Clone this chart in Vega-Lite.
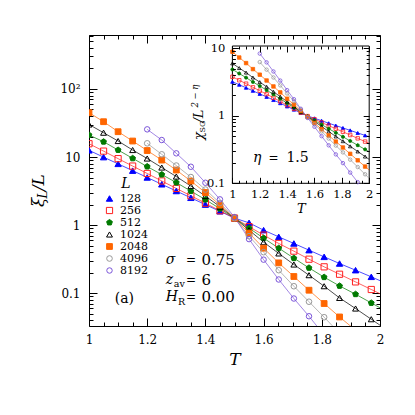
{
"$schema": "https://vega.github.io/schema/vega-lite/v6.json",
"autosize": "none",
"width": 291, "height": 291,
"padding": {"left": 89, "top": 35, "right": 35, "bottom": 89},
"config": {
  "view": {"stroke": "black", "strokeWidth": 1},
  "axis": {"labelFont": "DejaVu Serif", "titleFont": "DejaVu Serif", "tickColor": "black", "labelColor": "black", "titleColor": "black", "titleFontWeight": "normal", "domain": false, "grid": false, "labelFlush": false, "labelOverlap": false, "labelBound": false},
  "text": {"font": "DejaVu Serif", "color": "black"}
},
"datasets": {
 "main": [
  {"L":128,"T":1.0,"v":12.55},{"L":128,"T":1.05,"v":9.97},{"L":128,"T":1.1,"v":7.94},{"L":128,"T":1.15,"v":6.31},{"L":128,"T":1.2,"v":5.01},{"L":128,"T":1.25,"v":3.98},{"L":128,"T":1.3,"v":3.17},{"L":128,"T":1.35,"v":2.52},{"L":128,"T":1.4,"v":2.0},{"L":128,"T":1.45,"v":1.596},{"L":128,"T":1.5,"v":1.267},{"L":128,"T":1.55,"v":1.081},{"L":128,"T":1.6,"v":0.844},{"L":128,"T":1.652,"v":0.673},{"L":128,"T":1.704,"v":0.538},{"L":128,"T":1.756,"v":0.429},{"L":128,"T":1.808,"v":0.342},{"L":128,"T":1.861,"v":0.273},{"L":128,"T":1.916,"v":0.218},{"L":128,"T":1.97,"v":0.174},{"L":128,"T":2.0,"v":0.153,"ext":true},
  {"L":256,"T":1.0,"v":15.69},{"L":256,"T":1.05,"v":12.22},{"L":256,"T":1.1,"v":9.47},{"L":256,"T":1.15,"v":7.37},{"L":256,"T":1.2,"v":5.74},{"L":256,"T":1.25,"v":4.45},{"L":256,"T":1.3,"v":3.46},{"L":256,"T":1.35,"v":2.70},{"L":256,"T":1.4,"v":2.10},{"L":256,"T":1.45,"v":1.628},{"L":256,"T":1.5,"v":1.267},{"L":256,"T":1.55,"v":0.950},{"L":256,"T":1.6,"v":0.713},{"L":256,"T":1.652,"v":0.538},{"L":256,"T":1.704,"v":0.415},{"L":256,"T":1.756,"v":0.316},{"L":256,"T":1.808,"v":0.244},{"L":256,"T":1.861,"v":0.190},{"L":256,"T":1.916,"v":0.1466},{"L":256,"T":1.97,"v":0.1134},{"L":256,"T":2.0,"v":0.0984,"ext":true},
  {"L":512,"T":1.0,"v":21.06},{"L":512,"T":1.05,"v":16.79},{"L":512,"T":1.1,"v":12.68},{"L":512,"T":1.15,"v":9.57},{"L":512,"T":1.2,"v":7.25},{"L":512,"T":1.25,"v":5.53},{"L":512,"T":1.3,"v":4.22},{"L":512,"T":1.35,"v":3.16},{"L":512,"T":1.4,"v":2.37},{"L":512,"T":1.45,"v":1.748},{"L":512,"T":1.5,"v":1.267},{"L":512,"T":1.55,"v":0.903},{"L":512,"T":1.6,"v":0.644},{"L":512,"T":1.652,"v":0.459},{"L":512,"T":1.704,"v":0.327},{"L":512,"T":1.756,"v":0.2356},{"L":512,"T":1.808,"v":0.172},{"L":512,"T":1.861,"v":0.128},{"L":512,"T":1.916,"v":0.0967},{"L":512,"T":1.97,"v":0.072},{"L":512,"T":2.0,"v":0.0612,"ext":true},
  {"L":1024,"T":1.0,"v":30.06},{"L":1024,"T":1.05,"v":22.77},{"L":1024,"T":1.1,"v":17.19},{"L":1024,"T":1.15,"v":12.68},{"L":1024,"T":1.2,"v":9.51},{"L":1024,"T":1.25,"v":7.01},{"L":1024,"T":1.3,"v":5.17},{"L":1024,"T":1.35,"v":3.75},{"L":1024,"T":1.4,"v":2.67},{"L":1024,"T":1.45,"v":1.871},{"L":1024,"T":1.5,"v":1.267},{"L":1024,"T":1.55,"v":0.844},{"L":1024,"T":1.6,"v":0.562},{"L":1024,"T":1.652,"v":0.384},{"L":1024,"T":1.704,"v":0.264},{"L":1024,"T":1.756,"v":0.184},{"L":1024,"T":1.808,"v":0.1267},{"L":1024,"T":1.861,"v":0.0853},{"L":1024,"T":1.916,"v":0.0596},{"L":1024,"T":1.97,"v":0.0415},{"L":1024,"T":2.0,"v":0.0339,"ext":true},
  {"L":2048,"T":1.0,"v":44.8},{"L":2048,"T":1.05,"v":33.04},{"L":2048,"T":1.1,"v":23.56},{"L":2048,"T":1.15,"v":17.19},{"L":2048,"T":1.2,"v":12.46},{"L":2048,"T":1.25,"v":9.03},{"L":2048,"T":1.3,"v":6.44},{"L":2048,"T":1.35,"v":4.44},{"L":2048,"T":1.4,"v":3.01},{"L":2048,"T":1.45,"v":1.968},{"L":2048,"T":1.5,"v":1.267},{"L":2048,"T":1.55,"v":0.763},{"L":2048,"T":1.6,"v":0.459},{"L":2048,"T":1.652,"v":0.279},{"L":2048,"T":1.704,"v":0.176},{"L":2048,"T":1.756,"v":0.1107},{"L":2048,"T":1.808,"v":0.0706},{"L":2048,"T":1.861,"v":0.0448},{"L":2048,"T":1.916,"v":0.0286},{"L":2048,"T":1.97,"v":0.0185},
  {"L":4096,"T":1.2,"v":15.9},{"L":4096,"T":1.25,"v":10.96},{"L":4096,"T":1.3,"v":7.5},{"L":4096,"T":1.35,"v":5.08},{"L":4096,"T":1.4,"v":3.33},{"L":4096,"T":1.45,"v":2.11},{"L":4096,"T":1.5,"v":1.267},{"L":4096,"T":1.55,"v":0.689},{"L":4096,"T":1.6,"v":0.401},{"L":4096,"T":1.652,"v":0.218},{"L":4096,"T":1.704,"v":0.1267},{"L":4096,"T":1.756,"v":0.075},{"L":4096,"T":1.808,"v":0.0444},{"L":4096,"T":1.861,"v":0.0258},
  {"L":8192,"T":1.2,"v":25.5},{"L":8192,"T":1.25,"v":17.78},{"L":8192,"T":1.3,"v":11.33},{"L":8192,"T":1.35,"v":7.2},{"L":8192,"T":1.4,"v":4.19},{"L":8192,"T":1.45,"v":2.39},{"L":8192,"T":1.5,"v":1.311},{"L":8192,"T":1.55,"v":0.623},{"L":8192,"T":1.6,"v":0.311},{"L":8192,"T":1.652,"v":0.159},{"L":8192,"T":1.704,"v":0.0836},{"L":8192,"T":1.756,"v":0.0459},{"L":8192,"T":1.808,"v":0.0242}
 ],
 "inset": [
  {"L":128,"T":1.0,"v":3.19},{"L":128,"T":1.05,"v":2.88},{"L":128,"T":1.1,"v":2.60},{"L":128,"T":1.15,"v":2.34},{"L":128,"T":1.2,"v":2.11},{"L":128,"T":1.25,"v":1.905},{"L":128,"T":1.3,"v":1.71},{"L":128,"T":1.35,"v":1.535},{"L":128,"T":1.4,"v":1.374},{"L":128,"T":1.45,"v":1.233},{"L":128,"T":1.5,"v":1.10},{"L":128,"T":1.55,"v":0.995},{"L":128,"T":1.6,"v":0.918},{"L":128,"T":1.652,"v":0.845},{"L":128,"T":1.704,"v":0.776},{"L":128,"T":1.756,"v":0.716},{"L":128,"T":1.808,"v":0.661},{"L":128,"T":1.861,"v":0.608},{"L":128,"T":1.916,"v":0.557},{"L":128,"T":1.97,"v":0.512},{"L":128,"T":2.0,"v":0.489,"ext":true},
  {"L":256,"T":1.0,"v":3.78},{"L":256,"T":1.05,"v":3.36},{"L":256,"T":1.1,"v":2.99},{"L":256,"T":1.15,"v":2.64},{"L":256,"T":1.2,"v":2.35},{"L":256,"T":1.25,"v":2.09},{"L":256,"T":1.3,"v":1.85},{"L":256,"T":1.35,"v":1.63},{"L":256,"T":1.4,"v":1.436},{"L":256,"T":1.45,"v":1.268},{"L":256,"T":1.5,"v":1.114},{"L":256,"T":1.55,"v":0.988},{"L":256,"T":1.6,"v":0.889},{"L":256,"T":1.652,"v":0.796},{"L":256,"T":1.704,"v":0.714},{"L":256,"T":1.756,"v":0.643},{"L":256,"T":1.808,"v":0.579},{"L":256,"T":1.861,"v":0.519},{"L":256,"T":1.916,"v":0.463},{"L":256,"T":1.97,"v":0.415},{"L":256,"T":2.0,"v":0.39,"ext":true},
  {"L":512,"T":1.0,"v":4.86},{"L":512,"T":1.05,"v":4.23},{"L":512,"T":1.1,"v":3.67},{"L":512,"T":1.15,"v":3.17},{"L":512,"T":1.2,"v":2.76},{"L":512,"T":1.25,"v":2.40},{"L":512,"T":1.3,"v":2.07},{"L":512,"T":1.35,"v":1.786},{"L":512,"T":1.4,"v":1.535},{"L":512,"T":1.45,"v":1.324},{"L":512,"T":1.5,"v":1.132},{"L":512,"T":1.55,"v":0.979},{"L":512,"T":1.6,"v":0.855},{"L":512,"T":1.652,"v":0.740},{"L":512,"T":1.704,"v":0.643},{"L":512,"T":1.756,"v":0.560},{"L":512,"T":1.808,"v":0.489},{"L":512,"T":1.861,"v":0.424},{"L":512,"T":1.916,"v":0.366},{"L":512,"T":1.97,"v":0.318},{"L":512,"T":2.0,"v":0.293,"ext":true},
  {"L":1024,"T":1.0,"v":5.97},{"L":1024,"T":1.05,"v":5.09},{"L":1024,"T":1.1,"v":4.36},{"L":1024,"T":1.15,"v":3.68},{"L":1024,"T":1.2,"v":3.15},{"L":1024,"T":1.25,"v":2.69},{"L":1024,"T":1.3,"v":2.27},{"L":1024,"T":1.35,"v":1.92},{"L":1024,"T":1.4,"v":1.62},{"L":1024,"T":1.45,"v":1.368},{"L":1024,"T":1.5,"v":1.148},{"L":1024,"T":1.55,"v":0.971},{"L":1024,"T":1.6,"v":0.824},{"L":1024,"T":1.652,"v":0.693},{"L":1024,"T":1.704,"v":0.585},{"L":1024,"T":1.756,"v":0.494},{"L":1024,"T":1.808,"v":0.420},{"L":1024,"T":1.861,"v":0.353},{"L":1024,"T":1.916,"v":0.296},{"L":1024,"T":1.97,"v":0.249},{"L":1024,"T":2.0,"v":0.226,"ext":true},
  {"L":2048,"T":1.0,"v":8.87},{"L":2048,"T":1.05,"v":7.29},{"L":2048,"T":1.1,"v":6.03},{"L":2048,"T":1.15,"v":4.91},{"L":2048,"T":1.2,"v":4.06},{"L":2048,"T":1.25,"v":3.33},{"L":2048,"T":1.3,"v":2.72},{"L":2048,"T":1.35,"v":2.22},{"L":2048,"T":1.4,"v":1.79},{"L":2048,"T":1.45,"v":1.462},{"L":2048,"T":1.5,"v":1.178},{"L":2048,"T":1.55,"v":0.957},{"L":2048,"T":1.6,"v":0.782},{"L":2048,"T":1.652,"v":0.631},{"L":2048,"T":1.704,"v":0.511},{"L":2048,"T":1.756,"v":0.415},{"L":2048,"T":1.808,"v":0.339},{"L":2048,"T":1.861,"v":0.273},{"L":2048,"T":1.916,"v":0.219},{"L":2048,"T":1.97,"v":0.177},{"L":2048,"T":2.0,"v":0.157,"ext":true},
  {"L":4096,"T":1.2,"v":6.24},{"L":4096,"T":1.25,"v":4.82},{"L":4096,"T":1.3,"v":3.69},{"L":4096,"T":1.35,"v":2.82},{"L":4096,"T":1.4,"v":2.14},{"L":4096,"T":1.45,"v":1.64},{"L":4096,"T":1.5,"v":1.23},{"L":4096,"T":1.55,"v":0.948},{"L":4096,"T":1.6,"v":0.751},{"L":4096,"T":1.652,"v":0.587},{"L":4096,"T":1.704,"v":0.460},{"L":4096,"T":1.756,"v":0.362},{"L":4096,"T":1.808,"v":0.287},{"L":4096,"T":1.861,"v":0.224},{"L":4096,"T":1.916,"v":0.174},{"L":4096,"T":1.97,"v":0.136},{"L":4096,"T":2.0,"v":0.118,"ext":true},
  {"L":8192,"T":1.2,"v":8.34},{"L":8192,"T":1.25,"v":6.18},{"L":8192,"T":1.3,"v":4.53},{"L":8192,"T":1.35,"v":3.32},{"L":8192,"T":1.4,"v":2.40},{"L":8192,"T":1.45,"v":1.76},{"L":8192,"T":1.5,"v":1.27},{"L":8192,"T":1.55,"v":0.929},{"L":8192,"T":1.6,"v":0.687},{"L":8192,"T":1.652,"v":0.499},{"L":8192,"T":1.704,"v":0.365},{"L":8192,"T":1.756,"v":0.268},{"L":8192,"T":1.808,"v":0.199},{"L":8192,"T":1.861,"v":0.144},{"L":8192,"T":1.916,"v":0.104}
 ]
},
"layer": [
 {
  "layer": [
   {
    "data": {"name": "main"},
    "mark": {"type": "line", "clip": true, "strokeWidth": 0.7},
    "encoding": {
     "x": {"field": "T", "type": "quantitative", "scale": {"domain": [1, 2], "nice": false, "zero": false},
       "axis": {"orient": "bottom", "values": [1,1.05,1.1,1.15,1.2,1.25,1.3,1.35,1.4,1.45,1.5,1.55,1.6,1.65,1.7,1.75,1.8,1.85,1.9,1.95,2], "format": "~g",
         "labelExpr": "abs(datum.value*5-round(datum.value*5))<1e-6 ? datum.label : ''",
         "tickSize": {"condition": {"test": "abs(datum.value*5-round(datum.value*5))<1e-6", "value": -8}, "value": -4},
         "labelPadding": 16, "labelFontSize": 12, "title": "T", "titleFontStyle": "italic", "titleFontSize": 17, "titlePadding": 2, "zindex": 0}},
     "y": {"field": "v", "type": "quantitative", "scale": {"type": "log", "domain": [0.033, 620], "nice": false},
       "axis": {"orient": "left", "values": [0.04,0.05,0.06,0.07,0.08,0.09,0.1,0.2,0.3,0.4,0.5,0.6,0.7,0.8,0.9,1,2,3,4,5,6,7,8,9,10,20,30,40,50,60,70,80,90,100,200,300,400,500,600],
         "labelExpr": "datum.value==100 ? '10²' : (abs(log(datum.value)/LN10-round(log(datum.value)/LN10))<1e-6 ? format(datum.value,'~g') : '')",
         "tickSize": {"condition": {"test": "abs(log(datum.value)/LN10-round(log(datum.value)/LN10))<1e-6", "value": -8}, "value": -4},
         "labelPadding": 17, "labelFontSize": 12, "title": null, "zindex": 0}},
     "color": {"field": "L", "type": "ordinal", "scale": {"range": ["#0000ff","#ff2020","#007a00","#000000","#ff6600","#999999","#7b55d9"]}, "legend": null}
    }
   },
   {
    "data": {"name": "main"},
    "transform": [{"filter": "!datum.ext"}],
    "mark": {"type": "point", "clip": true, "strokeWidth": 1, "opacity": 1},
    "encoding": {
     "x": {"field": "T", "type": "quantitative", "scale": {"domain": [1, 2], "nice": false, "zero": false},
       "axis": {"orient": "top", "values": [1,1.05,1.1,1.15,1.2,1.25,1.3,1.35,1.4,1.45,1.5,1.55,1.6,1.65,1.7,1.75,1.8,1.85,1.9,1.95,2], "labels": false,
         "tickSize": {"condition": {"test": "abs(datum.value*5-round(datum.value*5))<1e-6", "value": -8}, "value": -4}, "title": null, "zindex": 0}},
     "y": {"field": "v", "type": "quantitative", "scale": {"type": "log", "domain": [0.033, 620], "nice": false},
       "axis": {"orient": "right", "values": [0.04,0.05,0.06,0.07,0.08,0.09,0.1,0.2,0.3,0.4,0.5,0.6,0.7,0.8,0.9,1,2,3,4,5,6,7,8,9,10,20,30,40,50,60,70,80,90,100,200,300,400,500,600], "labels": false,
         "tickSize": {"condition": {"test": "abs(log(datum.value)/LN10-round(log(datum.value)/LN10))<1e-6", "value": -8}, "value": -4}, "title": null, "zindex": 0}},
     "shape": {"field": "L", "type": "ordinal", "title": "L", "scale": {"domain": [128,256,512,1024,2048,4096,8192], "range": ["triangle-up","square","M0,-1L0.951,-0.309L0.588,0.809L-0.588,0.809L-0.951,-0.309Z","triangle-up","square","circle","circle"]},
       "legend": {"orient": "none", "legendX": 15, "legendY": 142, "titleFont": "DejaVu Serif", "titleFontStyle": "italic", "titleFontWeight": "normal", "titleFontSize": 14, "titleColor": "black", "titleAnchor": "middle", "titlePadding": 2, "labelFont": "DejaVu Serif", "labelFontSize": 11, "labelColor": "black", "labelOffset": 5, "rowPadding": 0, "padding": 0, "symbolStrokeWidth": 1, "symbolOpacity": 1}},
     "fill": {"field": "L", "type": "ordinal", "title": "L", "scale": {"domain": [128,256,512,1024,2048,4096,8192], "range": ["#0000ff","transparent","#007a00","transparent","#ff6600","transparent","transparent"]},
       "legend": {"orient": "none", "legendX": 15, "legendY": 142, "titleFont": "DejaVu Serif", "titleFontStyle": "italic", "titleFontWeight": "normal", "titleFontSize": 14, "titleColor": "black", "titleAnchor": "middle", "titlePadding": 2, "labelFont": "DejaVu Serif", "labelFontSize": 11, "labelColor": "black", "labelOffset": 5, "rowPadding": 0, "padding": 0, "symbolStrokeWidth": 1, "symbolOpacity": 1}},
     "stroke": {"field": "L", "type": "ordinal", "title": "L", "scale": {"domain": [128,256,512,1024,2048,4096,8192], "range": ["#0000ff","#ff2020","#007a00","#000000","#ff6600","#999999","#7b55d9"]},
       "legend": {"orient": "none", "legendX": 15, "legendY": 142, "titleFont": "DejaVu Serif", "titleFontStyle": "italic", "titleFontWeight": "normal", "titleFontSize": 14, "titleColor": "black", "titleAnchor": "middle", "titlePadding": 2, "labelFont": "DejaVu Serif", "labelFontSize": 11, "labelColor": "black", "labelOffset": 5, "rowPadding": 0, "padding": 0, "symbolStrokeWidth": 1, "symbolOpacity": 1}},
     "size": {"field": "L", "type": "ordinal", "title": "L", "scale": {"domain": [128,256,512,1024,2048,4096,8192], "range": [40,30,40,40,30,40,60]},
       "legend": {"orient": "none", "legendX": 15, "legendY": 142, "titleFont": "DejaVu Serif", "titleFontStyle": "italic", "titleFontWeight": "normal", "titleFontSize": 14, "titleColor": "black", "titleAnchor": "middle", "titlePadding": 2, "labelFont": "DejaVu Serif", "labelFontSize": 11, "labelColor": "black", "labelOffset": 5, "rowPadding": 0, "padding": 0, "symbolStrokeWidth": 1, "symbolOpacity": 1}}
    }
   },
   {"data": {"values": [{}]}, "mark": {"type": "text", "text": "ξ", "fontStyle": "italic", "fontSize": 17, "angle": 270, "align": "left", "baseline": "alphabetic"},
    "encoding": {"x": {"datum": 0.8443, "type": "quantitative", "axis": null}, "y": {"datum": 1.84, "type": "quantitative", "axis": null}}},
   {"data": {"values": [{}]}, "mark": {"type": "text", "text": "L", "fontStyle": "italic", "fontSize": 12, "angle": 270, "align": "left", "baseline": "alphabetic"},
    "encoding": {"x": {"datum": 0.8564, "type": "quantitative", "axis": null}, "y": {"datum": 2.455, "type": "quantitative", "axis": null}}},
   {"data": {"values": [{}]}, "mark": {"type": "text", "text": "/L", "fontStyle": "italic", "fontSize": 17, "angle": 270, "align": "left", "baseline": "alphabetic"},
    "encoding": {"x": {"datum": 0.8443, "type": "quantitative", "axis": null}, "y": {"datum": 3.16, "type": "quantitative", "axis": null}}},
   {"data": {"values": [{}]}, "mark": {"type": "text", "text": "σ", "fontStyle": "italic", "fontSize": 14, "align": "left", "baseline": "middle"},
    "encoding": {"x": {"datum": 1.2636, "type": "quantitative", "axis": null}, "y": {"datum": 0.3056, "type": "quantitative", "axis": null}}},
   {"data": {"values": [{}]}, "mark": {"type": "text", "text": "=", "fontSize": 12, "align": "center", "baseline": "middle"},
    "encoding": {"x": {"datum": 1.3505, "type": "quantitative", "axis": null}, "y": {"datum": 0.3056, "type": "quantitative", "axis": null}}},
   {"data": {"values": [{}]}, "mark": {"type": "text", "text": "0.75", "fontSize": 15, "align": "left", "baseline": "middle"},
    "encoding": {"x": {"datum": 1.3863, "type": "quantitative", "axis": null}, "y": {"datum": 0.3056, "type": "quantitative", "axis": null}}},
   {"data": {"values": [{}]}, "mark": {"type": "text", "text": "z", "fontStyle": "italic", "fontSize": 14, "align": "left", "baseline": "middle"},
    "encoding": {"x": {"datum": 1.2636, "type": "quantitative", "axis": null}, "y": {"datum": 0.1553, "type": "quantitative", "axis": null}}},
   {"data": {"values": [{}]}, "mark": {"type": "text", "text": "av", "fontSize": 9.5, "align": "left", "baseline": "middle"},
    "encoding": {"x": {"datum": 1.2913, "type": "quantitative", "axis": null}, "y": {"datum": 0.1356, "type": "quantitative", "axis": null}}},
   {"data": {"values": [{}]}, "mark": {"type": "text", "text": "=", "fontSize": 12, "align": "center", "baseline": "middle"},
    "encoding": {"x": {"datum": 1.3505, "type": "quantitative", "axis": null}, "y": {"datum": 0.1553, "type": "quantitative", "axis": null}}},
   {"data": {"values": [{}]}, "mark": {"type": "text", "text": "6", "fontSize": 15, "align": "left", "baseline": "middle"},
    "encoding": {"x": {"datum": 1.3863, "type": "quantitative", "axis": null}, "y": {"datum": 0.1553, "type": "quantitative", "axis": null}}},
   {"data": {"values": [{}]}, "mark": {"type": "text", "text": "H", "fontStyle": "italic", "fontSize": 14, "align": "left", "baseline": "middle"},
    "encoding": {"x": {"datum": 1.2636, "type": "quantitative", "axis": null}, "y": {"datum": 0.0882, "type": "quantitative", "axis": null}}},
   {"data": {"values": [{}]}, "mark": {"type": "text", "text": "R", "fontSize": 9.5, "align": "left", "baseline": "middle"},
    "encoding": {"x": {"datum": 1.3055, "type": "quantitative", "axis": null}, "y": {"datum": 0.0745, "type": "quantitative", "axis": null}}},
   {"data": {"values": [{}]}, "mark": {"type": "text", "text": "=", "fontSize": 12, "align": "center", "baseline": "middle"},
    "encoding": {"x": {"datum": 1.3505, "type": "quantitative", "axis": null}, "y": {"datum": 0.0882, "type": "quantitative", "axis": null}}},
   {"data": {"values": [{}]}, "mark": {"type": "text", "text": "0.00", "fontSize": 15, "align": "left", "baseline": "middle"},
    "encoding": {"x": {"datum": 1.3863, "type": "quantitative", "axis": null}, "y": {"datum": 0.0882, "type": "quantitative", "axis": null}}},
   {"data": {"values": [{}]}, "mark": {"type": "text", "text": "(a)", "fontSize": 14, "align": "left", "baseline": "middle"},
    "encoding": {"x": {"datum": 1.0883, "type": "quantitative", "axis": null}, "y": {"datum": 0.0836, "type": "quantitative", "axis": null}}}
  ],
  "resolve": {"axis": {"x": "independent", "y": "independent"}}
 },
 {
  "layer": [
   {"data": {"values": [{}]}, "mark": {"type": "rect", "fill": "white", "stroke": "black", "strokeWidth": 1},
    "encoding": {
     "x": {"datum": 1, "type": "quantitative", "scale": {"domain": [1, 2], "range": [143.4, 280.2], "nice": false, "zero": false}, "axis": null},
     "x2": {"datum": 2},
     "y": {"datum": 0.1, "type": "quantitative", "scale": {"type": "log", "domain": [0.1, 10.8], "range": [148.3, 11], "nice": false}, "axis": null},
     "y2": {"datum": 10.8}
    }},
   {
    "data": {"name": "inset"},
    "mark": {"type": "line", "strokeWidth": 0.7},
    "encoding": {
     "x": {"field": "T", "type": "quantitative", "scale": {"domain": [1, 2], "range": [143.4, 280.2], "nice": false, "zero": false},
       "axis": {"orient": "bottom", "offset": -142.7, "values": [1,1.05,1.1,1.15,1.2,1.25,1.3,1.35,1.4,1.45,1.5,1.55,1.6,1.65,1.7,1.75,1.8,1.85,1.9,1.95,2], "format": "~g",
         "labelExpr": "abs(datum.value*5-round(datum.value*5))<1e-6 ? datum.label : ''",
         "tickSize": {"condition": {"test": "abs(datum.value*5-round(datum.value*5))<1e-6", "value": -6}, "value": -3},
         "labelPadding": 11, "labelFontSize": 11.5, "title": "T", "titleFontStyle": "italic", "titleFontSize": 13, "titlePadding": 0, "zindex": 1}},
     "y": {"field": "v", "type": "quantitative", "scale": {"type": "log", "domain": [0.1, 10.8], "range": [148.3, 11], "nice": false},
       "axis": {"orient": "left", "offset": -143.4, "values": [0.1,0.2,0.3,0.4,0.5,0.6,0.7,0.8,0.9,1,2,3,4,5,6,7,8,9,10],
         "labelExpr": "abs(log(datum.value)/LN10-round(log(datum.value)/LN10))<1e-6 ? format(datum.value,'~g') : ''",
         "tickSize": {"condition": {"test": "abs(log(datum.value)/LN10-round(log(datum.value)/LN10))<1e-6", "value": -6}, "value": -3},
         "labelPadding": 13.5, "labelFontSize": 11.5, "title": null, "zindex": 1}},
     "color": {"field": "L", "type": "ordinal", "scale": {"range": ["#0000ff","#ff2020","#007a00","#000000","#ff6600","#999999","#7b55d9"]}, "legend": null}
    }
   },
   {
    "data": {"name": "inset"},
    "transform": [{"filter": "!datum.ext"}],
    "mark": {"type": "point", "strokeWidth": 0.8, "opacity": 1, "size": 12},
    "encoding": {
     "x": {"field": "T", "type": "quantitative", "scale": {"domain": [1, 2], "range": [143.4, 280.2], "nice": false, "zero": false},
       "axis": {"orient": "top", "offset": -11, "values": [1,1.05,1.1,1.15,1.2,1.25,1.3,1.35,1.4,1.45,1.5,1.55,1.6,1.65,1.7,1.75,1.8,1.85,1.9,1.95,2], "labels": false,
         "tickSize": {"condition": {"test": "abs(datum.value*5-round(datum.value*5))<1e-6", "value": -6}, "value": -3}, "title": null, "zindex": 1}},
     "y": {"field": "v", "type": "quantitative", "scale": {"type": "log", "domain": [0.1, 10.8], "range": [148.3, 11], "nice": false},
       "axis": {"orient": "right", "offset": -10.8, "values": [0.1,0.2,0.3,0.4,0.5,0.6,0.7,0.8,0.9,1,2,3,4,5,6,7,8,9,10], "labels": false,
         "tickSize": {"condition": {"test": "abs(log(datum.value)/LN10-round(log(datum.value)/LN10))<1e-6", "value": -6}, "value": -3}, "title": null, "zindex": 1}},
     "shape": {"field": "L", "type": "ordinal", "title": "L"},
     "fill": {"field": "L", "type": "ordinal", "title": "L"},
     "stroke": {"field": "L", "type": "ordinal", "title": "L"}
    }
   },
   {"data": {"values": [{}]}, "mark": {"type": "text", "text": "η", "fontStyle": "italic", "fontSize": 14, "align": "left", "baseline": "middle"},
    "encoding": {"x": {"datum": 1.1506, "type": "quantitative", "axis": null}, "y": {"datum": 0.2387, "type": "quantitative", "axis": null}}},
   {"data": {"values": [{}]}, "mark": {"type": "text", "text": "=", "fontSize": 12, "align": "center", "baseline": "middle"},
    "encoding": {"x": {"datum": 1.3, "type": "quantitative", "axis": null}, "y": {"datum": 0.2387, "type": "quantitative", "axis": null}}},
   {"data": {"values": [{}]}, "mark": {"type": "text", "text": "1.5", "fontSize": 14, "align": "left", "baseline": "middle"},
    "encoding": {"x": {"datum": 1.3947, "type": "quantitative", "axis": null}, "y": {"datum": 0.2387, "type": "quantitative", "axis": null}}},
   {"data": {"values": [{}]}, "mark": {"type": "text", "text": "χ", "fontStyle": "italic", "fontSize": 13, "angle": 270, "align": "left", "baseline": "alphabetic"},
    "encoding": {"x": {"datum": 0.7829, "type": "quantitative", "axis": null}, "y": {"datum": 0.4365, "type": "quantitative", "axis": null}}},
   {"data": {"values": [{}]}, "mark": {"type": "text", "text": "SG", "fontSize": 8, "angle": 270, "align": "left", "baseline": "alphabetic"},
    "encoding": {"x": {"datum": 0.8012, "type": "quantitative", "axis": null}, "y": {"datum": 0.5637, "type": "quantitative", "axis": null}}},
   {"data": {"values": [{}]}, "mark": {"type": "text", "text": "/L", "fontStyle": "italic", "fontSize": 13, "angle": 270, "align": "left", "baseline": "alphabetic"},
    "encoding": {"x": {"datum": 0.7829, "type": "quantitative", "axis": null}, "y": {"datum": 0.793, "type": "quantitative", "axis": null}}},
   {"data": {"values": [{}]}, "mark": {"type": "text", "text": "2 − η", "fontStyle": "italic", "fontSize": 8.5, "angle": 270, "align": "left", "baseline": "alphabetic"},
    "encoding": {"x": {"datum": 0.7463, "type": "quantitative", "axis": null}, "y": {"datum": 1.323, "type": "quantitative", "axis": null}}}
  ],
  "resolve": {"axis": {"x": "independent", "y": "independent"}}
 }
],
"resolve": {"scale": {"x": "independent", "y": "independent"}}
}
